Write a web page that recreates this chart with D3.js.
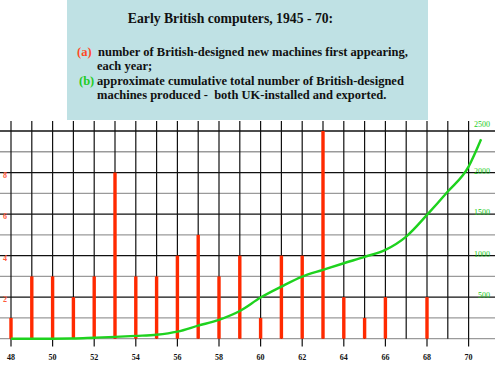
<!DOCTYPE html>
<html>
<head>
<meta charset="utf-8">
<script src="https://cdn.jsdelivr.net/npm/d3@7"></script>
<style>
  body { margin: 0; background: #fff; }
  svg { display: block; font-family: "Liberation Serif", "Times New Roman", serif; }
</style>
</head>
<body>
<div id="chart"></div>
<script>
// (a) new British-designed machines first appearing, by year
const barYears  = [48, 49, 50, 51, 52, 53, 54, 55, 56, 57, 58, 59, 60, 61, 62, 63, 64, 65, 66, 67, 68];
const barValues = [1, 3, 3, 2, 3, 8, 3, 3, 4, 5, 3, 4, 1, 4, 4, 10, 2, 1, 2, 0, 2];

// (b) approximate cumulative total of machines produced
const cumYears  = [48, 49, 50, 51, 52, 53, 54, 55, 56, 57, 58, 59, 60, 61, 62, 63, 64, 65, 66, 67, 68, 69, 70, 70.6];
const cumValues = [0, 0, 0, 2, 12, 22, 34, 48, 85, 157, 228, 334, 495, 627, 747, 828, 908, 985, 1069, 1229, 1490, 1771, 2072, 2400];

const yearTicks  = [48, 50, 52, 54, 56, 58, 60, 62, 64, 66, 68, 70];
const leftTicks  = [2, 4, 6, 8];
const rightTicks = [500, 1000, 1500, 2000, 2500];

const titleText = "Early British computers, 1945 - 70:";

const W = 500, H = 366;
const svg = d3.select("#chart").append("svg")
    .attr("width", W)
    .attr("height", H);

const x = d3.scaleLinear().domain([48, 70]).range([11, 468.6]);
const yL = d3.scaleLinear().domain([0, 10]).range([338.7, 131]);
const yR = d3.scaleLinear().domain([0, 2500]).range([338.7, 131]);

// horizontal grid: black on even counts, grey on odd and the baseline
const g = svg.append("g");
g.selectAll("line.h")
    .data(d3.range(0, 11))
    .enter().append("line")
    .attr("x1", 0).attr("x2", 495)
    .attr("y1", d => yL(d)).attr("y2", d => yL(d))
    .attr("stroke", d => (d % 2 === 0 && d > 0) ? "#111" : "#9a9a9a")
    .attr("stroke-width", 1.3);

// vertical grid, even years poke below the baseline as ticks
g.selectAll("line.v")
    .data(d3.range(48, 71))
    .enter().append("line")
    .attr("x1", d => x(d)).attr("x2", d => x(d))
    .attr("y1", 121)
    .attr("y2", d => d % 2 === 0 ? 346.5 : yL(0))
    .attr("stroke", "#111")
    .attr("stroke-width", 1.2);

// bars
svg.append("g").selectAll("rect")
    .data(barYears.map((d, i) => ({year: d, v: barValues[i]})).filter(d => d.v > 0))
    .enter().append("rect")
    .attr("x", d => x(d.year) - 1.7)
    .attr("width", 3.4)
    .attr("y", d => yL(d.v))
    .attr("height", d => yL(0) - yL(d.v))
    .attr("fill", "#ff2a00");

// cumulative line
const line = d3.line()
    .x(d => x(d[0]))
    .y(d => yR(d[1]))
    .curve(d3.curveMonotoneX);
svg.append("path")
    .datum(cumYears.map((d, i) => [d, cumValues[i]]))
    .attr("d", line)
    .attr("fill", "none")
    .attr("stroke", "#1ed21e")
    .attr("stroke-width", 2.4);

// axis labels
svg.append("g").selectAll("text")
    .data(yearTicks)
    .enter().append("text")
    .attr("x", d => x(d))
    .attr("y", 360)
    .attr("text-anchor", "middle")
    .attr("font-size", 8)
    .attr("font-weight", "bold")
    .attr("fill", "#111")
    .text(d => d);

svg.append("g").selectAll("text")
    .data(leftTicks)
    .enter().append("text")
    .attr("x", 5)
    .attr("y", d => yL(d) + 5)
    .attr("text-anchor", "middle")
    .attr("font-size", 8)
    .attr("font-weight", "bold")
    .attr("fill", "#ff5a3a")
    .text(d => d);

svg.append("g").selectAll("text")
    .data(rightTicks)
    .enter().append("text")
    .attr("x", 490)
    .attr("y", d => d === 2500 ? yR(d) - 4 : yR(d) + 1)
    .attr("text-anchor", "end")
    .attr("font-size", 8)
    .attr("fill", "#22cc22")
    .text(d => d);

// title box
svg.append("rect")
    .attr("x", 67).attr("y", 0)
    .attr("width", 361).attr("height", 120)
    .attr("fill", "#bfe1e4");

const tb = svg.append("g").attr("font-weight", "bold").attr("fill", "#111");
tb.append("text")
    .attr("x", 230.5).attr("y", 23)
    .attr("text-anchor", "middle")
    .attr("font-size", 13.7)
    .text(titleText);

const fs = 12.5;
tb.append("text").attr("x", 77).attr("y", 55.5).attr("font-size", fs)
    .attr("fill", "#ff4a26").text("(a)");
tb.append("text").attr("x", 98).attr("y", 55.5).attr("font-size", fs)
    .text("number of British-designed new machines first appearing,");
tb.append("text").attr("x", 97).attr("y", 70).attr("font-size", fs).text("each year;");
tb.append("text").attr("x", 79).attr("y", 84.5).attr("font-size", fs)
    .attr("fill", "#22cc22").text("(b)");
tb.append("text").attr("x", 97).attr("y", 84.5).attr("font-size", fs)
    .text("approximate cumulative total number of British-designed");
tb.append("text").attr("x", 97).attr("y", 99).attr("font-size", fs)
    .text("machines produced -  both UK-installed and exported.")
    .attr("xml:space", "preserve");
</script>
</body>
</html>
